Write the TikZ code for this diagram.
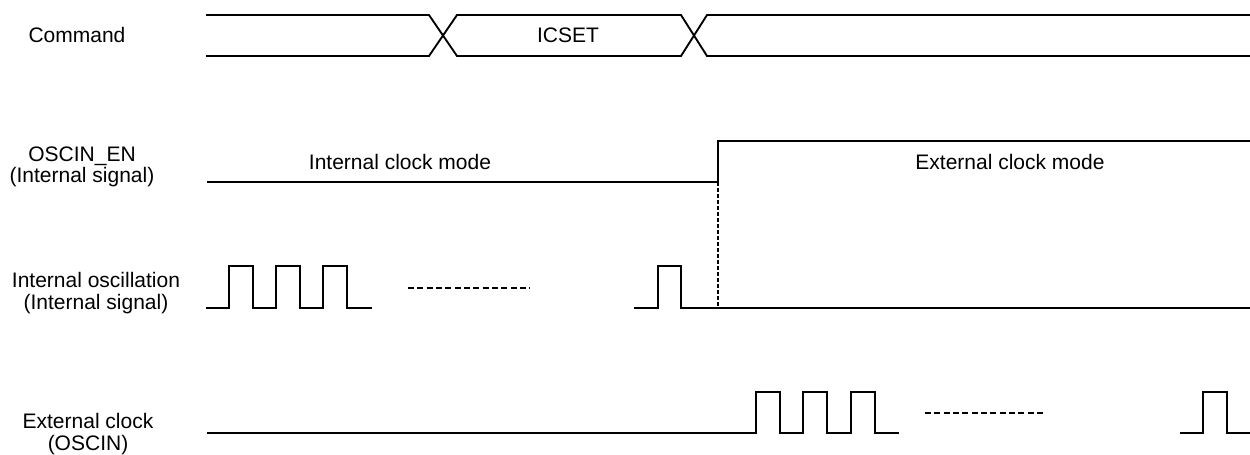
\documentclass[tikz,border=0pt]{standalone}
\usepackage{fontspec}
\setmainfont{Liberation Sans}
\usetikzlibrary{positioning}

\begin{document}
\begin{tikzpicture}[x=0.75pt,y=0.75pt,yscale=-1,xscale=1,
  wave/.style={line width=1.4pt},
  gapline/.style={line width=1.6pt,dash pattern=on 4.5pt off 2.5pt},
  edgeline/.style={line width=1.4pt,dash pattern=on 3pt off 1.5pt},
  lbl/.style={inner sep=0.75pt,align=center,font=\fontsize{15.75}{16.5}\selectfont}]
\useasboundingbox (0,0) rectangle (1250,454);

%Command bus
\draw [wave] (206,15) -- (429,15) -- (457,56) -- (681,56) -- (707,15) -- (1250,15) ;
\draw [wave] (206,56) -- (429,56) -- (457,15) -- (681,15) -- (707,56) -- (1250,56) ;

%OSCIN_EN
\coordinate (enrise) at (718,182);
\draw [wave] (207,182) -- (enrise) -- (718,141) -- (1250,141) ;

%Internal oscillation
\coordinate (osclow) at (718,308);
\draw [wave] (206,308) foreach \x in {229,276,323} { -- (\x,308) -- (\x,266) -- (\x+24,266) -- (\x+24,308) } -- (372,308) ;
\draw [gapline] (408,288) -- (530,288) ;
\draw [wave] (634,308) -- (658,308) -- (658,266) -- (681,266) -- (681,308) -- (1250,308) ;

%Dashed edge marker
\draw [edgeline] (enrise) -- (osclow) ;

%External clock
\draw [wave] (207,433) foreach \x in {756,803,851} { -- (\x,433) -- (\x,392) -- (\x+24,392) -- (\x+24,433) } -- (899,433) ;
\draw [gapline] (925,413) -- (1045,413) ;
\draw [wave] (1180,433) -- (1203,433) -- (1203,392) -- (1227,392) -- (1227,433) -- (1250,433) ;

% Text Node
\node [lbl] (cmd) at (77,35) {Command};
% Text Node
\node [lbl] (icset) at (568,35) {ICSET};
% Text Node
\node [lbl] (enlbl) at (82,167) {OSCIN\_EN\\[-1pt](Internal signal)};
% Text Node
\node [lbl] (intmode) at (400,162) {Internal clock mode};
% Text Node
\node [lbl] (extmode) at (1010,162) {External clock mode};
% Text Node
\node [lbl] (osclbl) at (96,293) {Internal oscillation\\(Internal signal)};
% Text Node
\node [lbl] (extlbl) at (88,434) {External clock\\(OSCIN)};

\end{tikzpicture}
\end{document}
